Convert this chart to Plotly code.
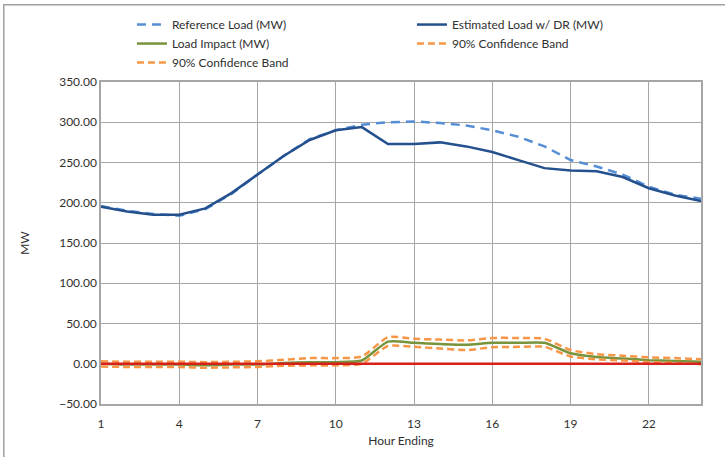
import plotly.graph_objects as go

# Hourly values (hour ending 1..24)
hours = list(range(1, 25))
reference_load = [196, 190, 186, 184, 192, 211, 235, 258, 279, 290, 297, 300,
                  301, 299, 296, 290, 282, 270, 253, 245, 235, 220, 210, 205]
estimated_load = [195, 189, 185, 185, 193, 212, 235, 258, 278, 290, 294, 273,
                  273, 275, 270, 263, 253, 243, 240, 239, 232, 218, 209, 202]
load_impact = [0, -1, -1, -1, -2, -1, -1, 1, 2, 2, 4, 27.5,
               26, 24.5, 23.5, 26, 26, 26, 13, 8.5, 6.5, 4.5, 3.5, 2.5]
band_upper = [3, 2.5, 2.5, 2.5, 2, 2.5, 3, 5, 7, 7, 9, 33,
              31, 30, 29, 32, 32, 31, 17, 12, 10, 8, 7, 5.5]
band_lower = [-3.5, -4, -4, -4, -5, -4.5, -4, -2.5, -2, -2, 0, 22,
              21, 19, 17, 20.5, 21, 21, 9, 5.5, 4, 2, 1, -0.5]

x_ticks = [1, 4, 7, 10, 13, 16, 19, 22]
y_ticks = [-50, 0, 50, 100, 150, 200, 250, 300, 350]

FONT = "Lato"
GRID = "#A6A6A6"
ORANGE = "#F79646"
TEXT = "#303030"

fig = go.Figure()
fig.add_trace(go.Scatter(
    x=hours, y=reference_load, mode="lines", name="Reference Load (MW)",
    line=dict(color="#558ED5", width=2.5, dash="9px,6px")))
fig.add_trace(go.Scatter(
    x=hours, y=estimated_load, mode="lines", name="Estimated Load w/ DR (MW)",
    line=dict(color="#24508E", width=2.5)))
fig.add_trace(go.Scatter(
    x=hours, y=load_impact, mode="lines", name="Load Impact (MW)",
    line=dict(color="#77933C", width=2.5, shape="spline", smoothing=0.6)))
fig.add_trace(go.Scatter(
    x=hours, y=band_upper, mode="lines", name="90% Confidence Band",
    line=dict(color=ORANGE, width=2.5, dash="7px,4px", shape="spline", smoothing=0.6)))
fig.add_trace(go.Scatter(
    x=hours, y=band_lower, mode="lines", name="90% Confidence Band",
    line=dict(color=ORANGE, width=2.5, dash="7px,4px", shape="spline", smoothing=0.6)))

# zero reference line
fig.add_hline(y=0, line=dict(color="#D8201A", width=2.5), layer="above")

# chart outer border
fig.add_shape(type="rect", xref="paper", yref="paper",
              x0=-0.162, x1=1.2, y0=-0.4, y1=1.24,
              line=dict(color="#A0A0A0", width=1.5), fillcolor="rgba(0,0,0,0)",
              layer="below")

fig.update_layout(
    width=725, height=457,
    margin=dict(l=101, r=24, t=82, b=53, autoexpand=False),
    paper_bgcolor="white", plot_bgcolor="white",
    font=dict(family=FONT, size=12, color=TEXT),
    showlegend=True,
    legend=dict(
        orientation="h", xref="container", yref="container",
        x=0.182, y=0.978, xanchor="left", yanchor="top",
        entrywidth=235, entrywidthmode="pixels",
        font=dict(family=FONT, size=12, color=TEXT),
        bgcolor="rgba(0,0,0,0)", traceorder="normal",
    ),
    xaxis=dict(
        range=[1, 24], tickvals=x_ticks, ticktext=[str(v) for v in x_ticks],
        showgrid=True, gridcolor=GRID, gridwidth=1,
        showline=True, linecolor=GRID, linewidth=1.5, mirror=True,
        ticks="", zeroline=False, ticklabelstandoff=8,
        title=dict(text="Hour Ending", font=dict(size=12, family=FONT), standoff=6),
        tickfont=dict(size=12, family=FONT, color=TEXT),
    ),
    yaxis=dict(
        range=[-50, 350], tickvals=y_ticks, tickformat=".2f",
        showgrid=True, gridcolor=GRID, gridwidth=1,
        showline=True, linecolor=GRID, linewidth=1.5, mirror=True,
        ticks="", zeroline=False,
        title=dict(text="MW", font=dict(size=12, family=FONT), standoff=27),
        tickfont=dict(size=12, family=FONT, color=TEXT),
    ),
)

fig.write_html("out.html")
